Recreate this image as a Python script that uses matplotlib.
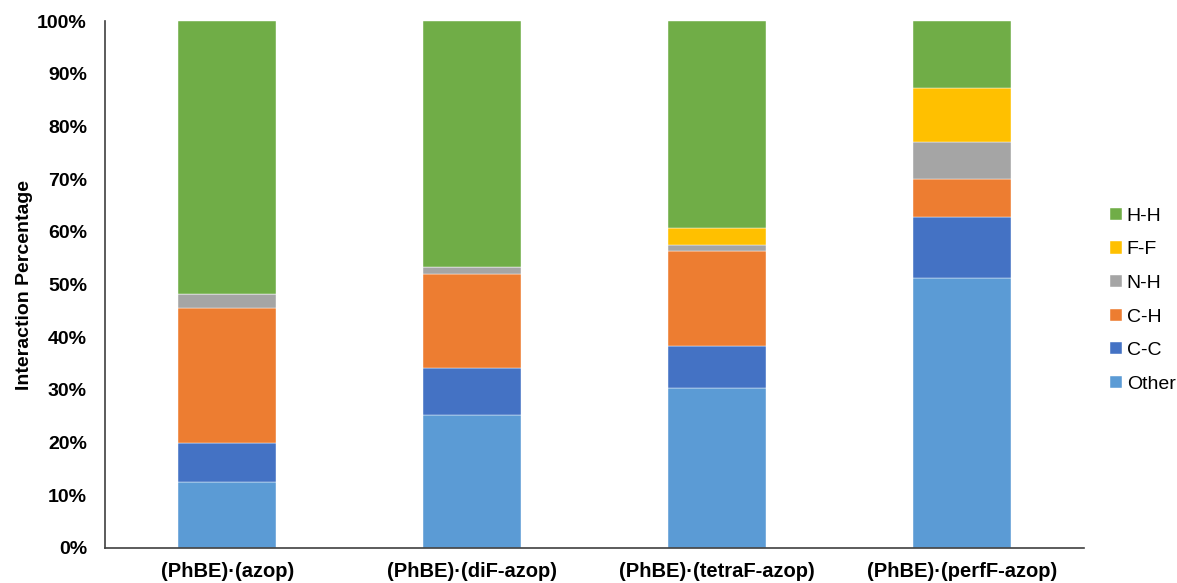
import numpy as np
from matplotlib import pyplot as plt
from matplotlib.ticker import PercentFormatter

plt.rcParams['font.family'] = ['Liberation Sans', 'DejaVu Sans']

complexes = ['(PhBE)\u00b7(azop)', '(PhBE)\u00b7(diF-azop)',
             '(PhBE)\u00b7(tetraF-azop)', '(PhBE)\u00b7(perfF-azop)']

# percent of each interaction type, stacked bottom to top
other = [12.5, 25.3, 30.4, 51.2]
c_c = [7.4, 8.9, 7.9, 11.7]
c_h = [25.6, 17.7, 18.0, 7.1]
n_h = [2.7, 1.5, 1.2, 7.0]
f_f = [0.0, 0.0, 3.2, 10.2]
h_h = [51.8, 46.6, 39.3, 12.8]

series = [('Other', other, '#5B9BD5'),
          ('C-C', c_c, '#4472C4'),
          ('C-H', c_h, '#ED7D31'),
          ('N-H', n_h, '#A5A5A5'),
          ('F-F', f_f, '#FFC000'),
          ('H-H', h_h, '#70AD47')]

fig = plt.figure(figsize=(11.77, 5.83), dpi=100)
ax = fig.add_axes([105/1177, 35/583, 979/1177, 527/583])

x = np.arange(len(complexes))
bottom = np.zeros(len(complexes))
handles = []
for name, vals, col in series:
	b = ax.bar(x, vals, 0.4, bottom=bottom, color=col, label=name,
	           edgecolor='white', linewidth=0.3)
	handles.append(b)
	bottom += np.array(vals)

ax.set_xlim(-0.5, 3.5)
ax.set_ylim(0, 100)
ax.set_yticks(np.arange(0, 101, 10))
ax.yaxis.set_major_formatter(PercentFormatter(decimals=0))
ax.set_xticks(x)
ax.set_xticklabels(complexes, fontsize=14.5, fontweight='bold')
for t in ax.get_yticklabels():
	t.set_fontsize(14)
	t.set_fontweight('bold')
ax.tick_params(axis='y', length=0, pad=13)
ax.tick_params(axis='x', length=0, pad=10)
ax.set_ylabel('Interaction Percentage', fontsize=14, fontweight='bold', labelpad=3)

for s in ['top', 'right']:
	ax.spines[s].set_visible(False)
for s in ['left', 'bottom']:
	ax.spines[s].set_color('#404040')
	ax.spines[s].set_linewidth(1.2)

ax.legend(handles[::-1], [s[0] for s in series[::-1]], loc='center left',
          bbox_to_anchor=(1.013, 0.47), frameon=False, fontsize=14,
          handlelength=0.6, handleheight=0.6, handletextpad=0.25,
          labelspacing=0.85, borderaxespad=0.3)

plt.savefig('out.png', dpi=100)
